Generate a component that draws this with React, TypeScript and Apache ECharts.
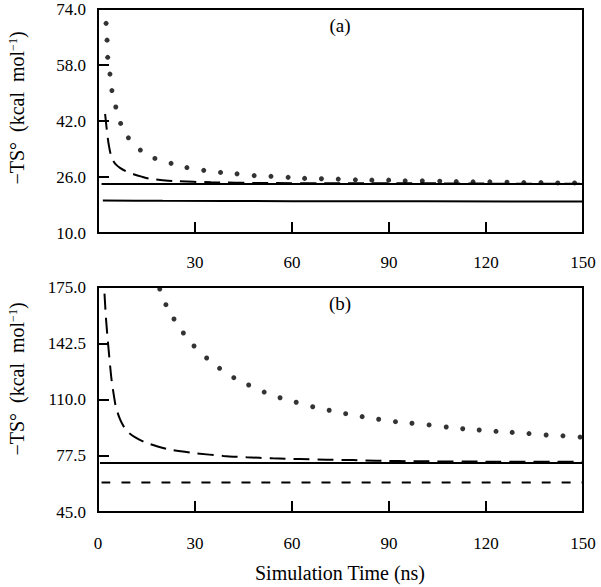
import React, { useEffect, useRef } from "react";
import * as echarts from "echarts";

// Tick labels / tick positions
const xLabelsTop = [30, 60, 90, 120, 150];
const xLabelsBottom = [0, 30, 60, 90, 120, 150];
const xTicks = [30, 60, 90, 120];
const yLabelsA = [10, 26, 42, 58, 74];
const yTicksA = [26, 42, 58];
const yLabelsB = [45, 77.5, 110, 142.5, 175];
const yTicksB = [77.5, 110, 142.5];

// Panel (a)
const aDots = [
  [2.5, 69.9], [2.8, 65.1], [3.0, 60.2], [3.7, 55.4], [4.3, 50.7], [5.5, 46.0],
  [7.0, 41.3], [9.4, 37.2], [13.1, 33.7], [17.6, 31.3], [22.6, 29.9], [27.5, 28.7],
  [32.7, 27.9], [37.9, 27.3], [43.0, 26.9], [48.3, 26.4], [53.5, 26.2], [58.8, 25.9],
  [63.9, 25.6], [69.1, 25.5], [74.3, 25.4], [79.6, 25.2], [84.7, 25.1], [89.9, 25.1],
  [95.0, 24.9], [100.3, 24.9], [105.7, 24.8], [110.8, 24.7], [116.0, 24.6], [121.2, 24.6],
  [126.5, 24.5], [131.7, 24.4], [137.0, 24.4], [142.2, 24.3], [147.4, 24.3],
];
const aDashed = [
  [2.2, 44.0], [2.6, 40.5], [3.0, 37.3], [3.4, 34.8], [3.9, 32.6], [4.6, 30.8],
  [5.5, 29.6], [6.8, 28.6], [8.9, 27.5], [11, 26.8], [13.5, 26.1], [16, 25.5],
  [20, 25.1], [24, 24.8], [35, 24.5], [50, 24.3], [75, 24.2], [100, 24.2],
  [125, 24.1], [150, 24.1],
];
const aSolidUpper = [[1.1, 24.0], [150, 24.0]];
const aSolidLower = [[1.5, 19.3], [20, 19.2], [60, 19.1], [150, 19.0]];

// Panel (b)
const bDots = [
  [19.1, 173.8], [21.0, 164.8], [23.5, 156.5], [26.4, 148.4], [29.7, 140.9], [33.6, 134.0],
  [37.6, 128.0], [42.0, 122.6], [46.6, 118.4], [51.4, 114.3], [56.3, 111.0], [61.3, 108.4],
  [66.4, 105.8], [71.5, 103.8], [76.6, 101.8], [81.7, 100.1], [86.8, 98.6], [92.0, 97.2],
  [97.1, 96.3], [102.4, 95.3], [107.7, 94.1], [112.8, 93.1], [117.9, 92.4], [123.1, 91.6],
  [128.1, 91.0], [133.3, 90.3], [138.6, 89.5], [143.8, 89.0], [149.1, 88.3],
];
const bDashed = [
  [1.7, 185], [1.9, 175], [2.2, 165], [2.5, 156], [3.2, 140.5], [4.2, 121.3],
  [5.3, 107.8], [5.8, 104.0], [6.8, 98.6], [7.8, 94.9], [9.4, 91.0], [11.4, 88.3],
  [14.5, 85.3], [18.7, 82.7], [22.8, 80.8], [30, 79.0], [38.8, 77.4], [46, 76.6],
  [54, 76.0], [62.5, 75.6], [70.7, 75.2], [79, 75.0], [86, 74.6], [100, 74.3],
  [120, 74.1], [150, 74.0],
];
const bSolid = [[0.6, 73.3], [150, 73.3]];
const bShortDashed = [[1.1, 62.0], [150, 62.0]];

const FONT = "'Liberation Serif', 'Times New Roman', serif";

function xAxisCfg(grid: number, labels: number[], margin: number) {
  return {
    gridIndex: grid,
    type: "value",
    min: 0,
    max: 150,
    axisLine: { show: false },
    axisTick: {
      inside: true,
      length: 11,
      lineStyle: { color: "#000", width: 2 },
      customValues: xTicks,
    },
    axisLabel: {
      customValues: labels,
      margin,
      color: "#000",
      fontFamily: FONT,
      fontSize: 17,
    },
    splitLine: { show: false },
  };
}

function yAxisCfg(grid: number, min: number, max: number, labels: number[], ticks: number[]) {
  return {
    gridIndex: grid,
    type: "value",
    min,
    max,
    axisLine: { show: false },
    axisTick: {
      inside: true,
      length: 11,
      lineStyle: { color: "#000", width: 2 },
      customValues: ticks,
    },
    axisLabel: {
      customValues: labels,
      margin: 12,
      color: "#000",
      fontFamily: FONT,
      fontSize: 17,
      formatter: (v: number) => v.toFixed(1),
    },
    splitLine: { show: false },
  };
}

function lineSeries(data: number[][], x: number, type: any) {
  return {
    type: "line",
    xAxisIndex: x,
    yAxisIndex: x,
    data,
    symbol: "none",
    smooth: 0.25,
    clip: true,
    lineStyle: { color: "#000", width: 2, type, cap: "butt" },
  };
}

function dotSeries(data: number[][], x: number) {
  return {
    type: "scatter",
    xAxisIndex: x,
    yAxisIndex: x,
    data,
    symbol: "circle",
    symbolSize: 5,
    clip: true,
    itemStyle: { color: "#000" },
    z: 5,
  };
}

function yTitle(x: number, y: number) {
  return {
    type: "text",
    x,
    y,
    rotation: Math.PI / 2,
    style: {
      text: "{m|\u2212TS\u00b0\u00a0\u00a0(kcal\u00a0\u00a0mol}{s|\u22121}{m|)}",
      align: "center",
      verticalAlign: "middle",
      fill: "#000",
      rich: {
        m: { fontFamily: FONT, fontSize: 20, fill: "#000", verticalAlign: "bottom" },
        s: { fontFamily: FONT, fontSize: 12, fill: "#000", verticalAlign: "top" },
      },
    },
  };
}

export default function App() {
  const ref = useRef<HTMLDivElement>(null);
  useEffect(() => {
    if (!ref.current) return;
    const chart = echarts.init(ref.current, undefined, { renderer: "svg" });
    chart.setOption({
      animation: false,
      backgroundColor: "#fff",
      grid: [
        { left: 98, top: 9, width: 485, height: 224, show: true, borderColor: "#000", borderWidth: 2, backgroundColor: "transparent" },
        { left: 98, top: 287, width: 485, height: 225, show: true, borderColor: "#000", borderWidth: 2, backgroundColor: "transparent" },
      ],
      xAxis: [xAxisCfg(0, xLabelsTop, 21), xAxisCfg(1, xLabelsBottom, 23)],
      yAxis: [yAxisCfg(0, 10, 74, yLabelsA, yTicksA), yAxisCfg(1, 45, 175, yLabelsB, yTicksB)],
      series: [
        lineSeries(aSolidUpper, 0, "solid"),
        lineSeries(aSolidLower, 0, "solid"),
        lineSeries(aDashed, 0, [16, 8]),
        dotSeries(aDots, 0),
        lineSeries(bSolid, 1, "solid"),
        lineSeries(bShortDashed, 1, [9, 11]),
        lineSeries(bDashed, 1, [16, 8]),
        dotSeries(bDots, 1),
      ],
      graphic: [
        { type: "text", x: 340, y: 25, style: { text: "(a)", fontFamily: FONT, fontSize: 19, fill: "#000", align: "center", verticalAlign: "middle" } },
        { type: "text", x: 340, y: 303, style: { text: "(b)", fontFamily: FONT, fontSize: 19, fill: "#000", align: "center", verticalAlign: "middle" } },
        { type: "text", x: 340, y: 573, style: { text: "Simulation Time (ns)", fontFamily: FONT, fontSize: 20, fill: "#000", align: "center", verticalAlign: "middle" } },
        yTitle(17, 108),
        yTitle(17, 379),
      ],
    });
    return () => chart.dispose();
  }, []);
  return (
    <div
      ref={ref}
      style={{ position: "fixed", left: 0, top: 0, width: 601, height: 587, background: "#fff" }}
    />
  );
}
